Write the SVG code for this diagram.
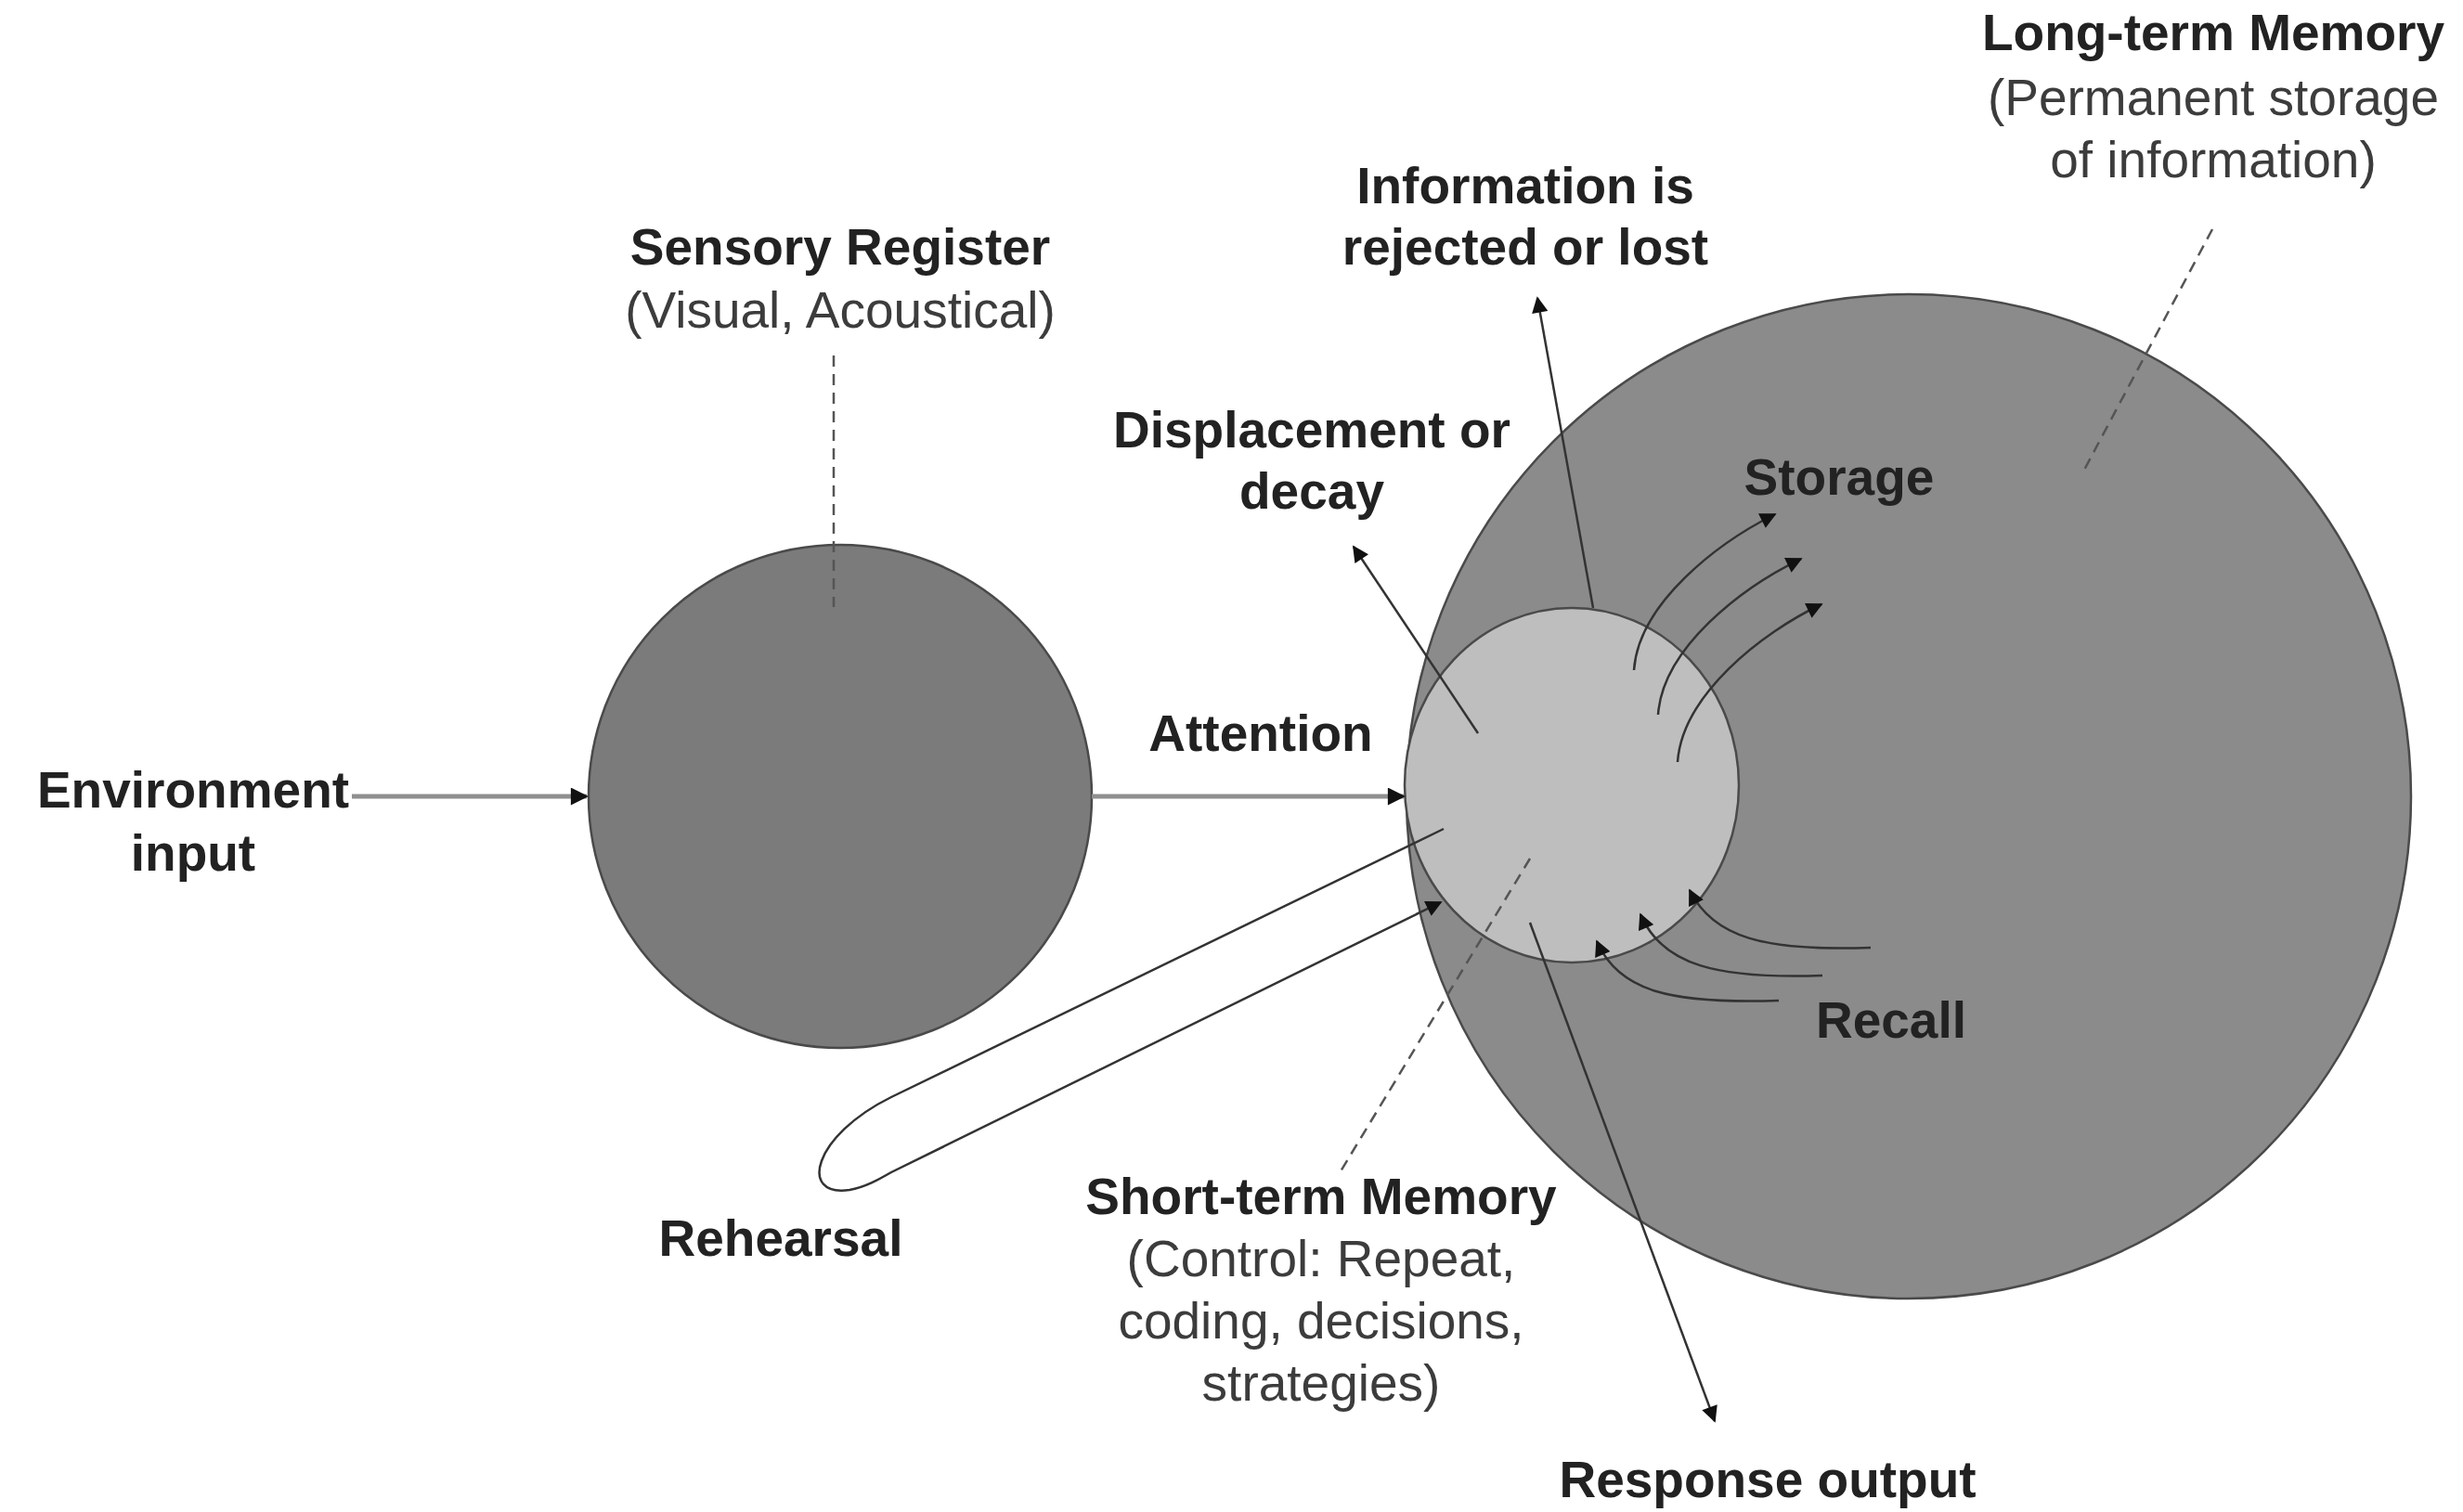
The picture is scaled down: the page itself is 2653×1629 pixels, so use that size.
<svg xmlns="http://www.w3.org/2000/svg" width="2653" height="1629" viewBox="0 0 2653 1629">
<style>
text{font-family:"Liberation Sans",Arial,Helvetica,sans-serif;font-size:55px;text-anchor:middle}
.b{font-weight:bold;fill:#222}
.r{fill:#3c3c3c}
.circ{stroke:#4a4a4a;stroke-width:2.5}
.thin{fill:none;stroke:#333;stroke-width:2.5}
.thick{fill:none;stroke:#8f8f8f;stroke-width:5}
.dash{fill:none;stroke:#555;stroke-width:2.5;stroke-dasharray:12 8}
</style>
<defs>
<marker id="ah" viewBox="0 0 10 10" refX="9" refY="5" markerWidth="8" markerHeight="7" markerUnits="strokeWidth" orient="auto">
<path d="M0,0 L10,5 L0,10 z" fill="#111"/>
</marker>
<marker id="ahk" viewBox="0 0 10 10" refX="9" refY="5" markerWidth="4.2" markerHeight="3.8" markerUnits="strokeWidth" orient="auto">
<path d="M0,0 L10,5 L0,10 z" fill="#111"/>
</marker>
</defs>
<rect width="2653" height="1629" fill="#fff"/>

<g id="ltm">
<circle class="circ" cx="2056" cy="858" r="541" fill="#8b8b8b"/>
<text class="b" x="2384" y="54">Long-term Memory</text>
<text class="r" x="2384" y="124">(Permanent storage</text>
<text class="r" x="2384" y="191">of information)</text>
</g>

<g id="stm">
<ellipse class="circ" cx="1693" cy="846" rx="180" ry="191" fill="#bebebe"/>
<text class="b" x="1423" y="1308">Short-term Memory</text>
<text class="r" x="1423" y="1375">(Control: Repeat,</text>
<text class="r" x="1423" y="1442">coding, decisions,</text>
<text class="r" x="1423" y="1509">strategies)</text>
</g>

<g id="sensory">
<circle class="circ" cx="905" cy="858" r="271" fill="#7b7b7b"/>
<text class="b" x="905" y="285">Sensory Register</text>
<text class="r" x="905" y="353">(Visual, Acoustical)</text>
</g>

<g id="env">
<text class="b" x="208" y="870">Environment</text>
<text class="b" x="208" y="938">input</text>
</g>

<g id="connectors">
<line class="thick" x1="379" y1="858" x2="632" y2="858" marker-end="url(#ahk)"/>
<line class="thick" x1="1176" y1="858" x2="1512" y2="858" marker-end="url(#ahk)"/>
<line class="thin" x1="1592" y1="790" x2="1458" y2="589" marker-end="url(#ah)"/>
<line class="thin" x1="1716" y1="655" x2="1656" y2="321" marker-end="url(#ah)"/>
<line class="thin" x1="1648" y1="994" x2="1847" y2="1531" marker-end="url(#ah)"/>
<path class="thin" d="M1760,722 C1765,650 1850,585 1912,554" marker-end="url(#ah)"/>
<path class="thin" d="M1786,770 C1791,698 1876,633 1940,602" marker-end="url(#ah)"/>
<path class="thin" d="M1807,821 C1812,749 1897,682 1962,651" marker-end="url(#ah)"/>
<path class="thin" d="M2015,1021 C1900,1025 1845,1010 1820,959" marker-end="url(#ah)"/>
<path class="thin" d="M1963,1051 C1850,1055 1790,1040 1767,985" marker-end="url(#ah)"/>
<path class="thin" d="M1916,1078 C1800,1082 1743,1068 1720,1014" marker-end="url(#ah)"/>
<path class="thin" d="M1555,893 L960,1182 C875,1224 860,1290 915,1282 C932,1279 946,1271 960,1263 L1552,972" marker-end="url(#ah)"/>
<line class="dash" x1="898" y1="383" x2="898" y2="654"/>
<line class="dash" x1="2383" y1="247" x2="2243" y2="510"/>
<line class="dash" x1="1648" y1="925" x2="1444" y2="1262"/>
</g>

<g id="labels">
<text class="b" x="1643" y="219">Information is</text>
<text class="b" x="1643" y="285">rejected or lost</text>
<text class="b" x="1413" y="482">Displacement or</text>
<text class="b" x="1413" y="548">decay</text>
<text class="b" x="1981" y="533">Storage</text>
<text class="b" x="1358" y="809">Attention</text>
<text class="b" x="2037" y="1118">Recall</text>
<text class="b" x="841" y="1353">Rehearsal</text>
<text class="b" x="1904" y="1613">Response output</text>
</g>
</svg>
